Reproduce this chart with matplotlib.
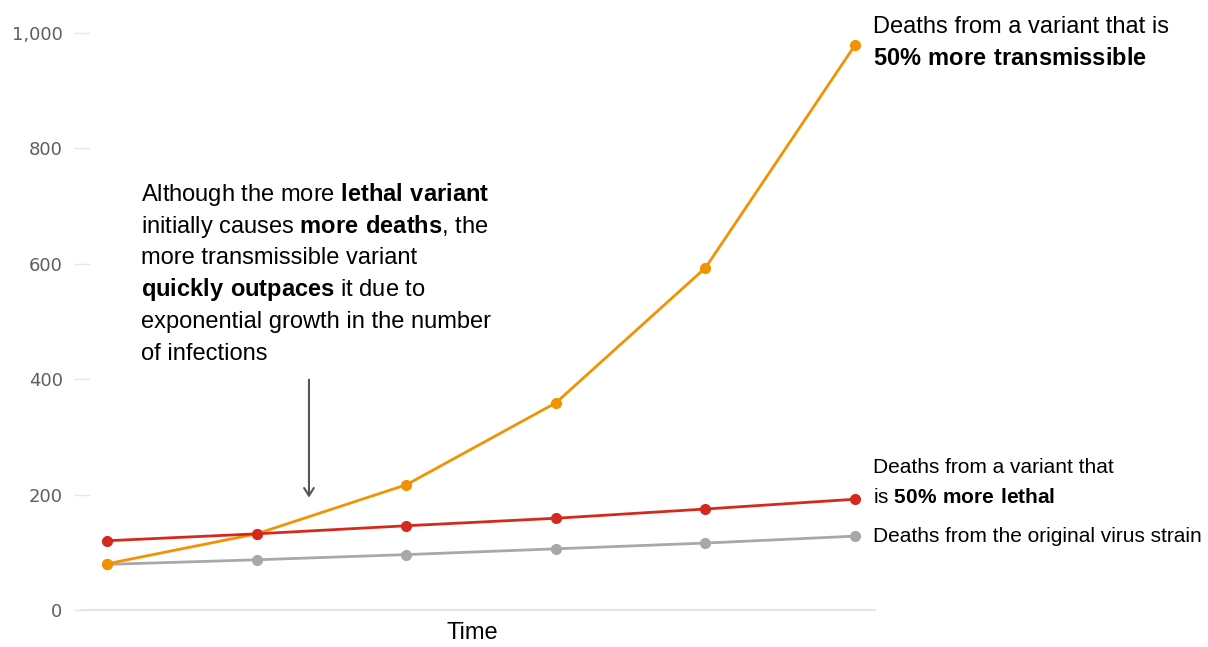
import matplotlib
matplotlib.use('Agg')
import matplotlib.pyplot as plt

### Fonts: Arial-like text, bold parts through mathtext. ###
plt.rcParams['font.family'] = 'Liberation Sans'
plt.rcParams['mathtext.fontset'] = 'custom'
plt.rcParams['mathtext.rm'] = 'Liberation Sans'
plt.rcParams['mathtext.bf'] = 'Liberation Sans:bold'

### Data. ###
steps = [0, 1, 2, 3, 4, 5]
original = [79, 87, 96, 106, 116, 128]
lethal = [120, 132, 146, 159, 175, 192]
transmissible = [80, 132, 217, 359, 593, 979]
yticks = [0, 200, 400, 600, 800, 1000]
ytick_labels = ['0', '200', '400', '600', '800', '1,000']

note_lines = [
    r"Although the more $\mathbf{lethal\ variant}$",
    r"initially causes $\mathbf{more\ deaths}$, the",
    "more transmissible variant",
    r"$\mathbf{quickly\ outpaces}$ it due to",
    "exponential growth in the number",
    "of infections",
]

ORANGE = '#f39200'
RED = '#d42a1e'
GREY = '#a8a8a8'
FS = 17

fig = plt.figure(figsize=(12.08, 6.47), dpi=100)
ax = fig.add_axes([0.0679, 0.0572, 0.6565, 0.8918])

style = dict(lw=2, marker='o', ms=7, clip_on=False)
ax.plot(steps, original, color=GREY, **style)
ax.plot(steps, transmissible, color=ORANGE, **style)
ax.plot(steps, lethal, color=RED, **style)

ax.set_xlim(-0.167, 5.134)
ax.set_ylim(0, 1000)

for s in ['top', 'right', 'left']:
    ax.spines[s].set_visible(False)
ax.spines['bottom'].set_color('#e4e4e4')
ax.spines['bottom'].set_linewidth(1.5)

ax.set_xticks([])
ax.set_yticks(yticks)
ax.set_yticklabels(ytick_labels, fontfamily='DejaVu Sans')
ax.tick_params(axis='y', direction='inout', length=12, width=1, color='#e6e6e6',
               labelcolor='#5f5f5f', labelsize=13, pad=8)

ax.set_xlabel('Time', fontsize=FS, color='black', labelpad=9)
ax.xaxis.label.set_x(0.492)

### Note + arrow. ###
y0 = 709
for i, line in enumerate(note_lines):
    ax.text(0.227, y0 - 55.1 * i, line, fontsize=FS, va='baseline', ha='left')

ax.annotate('', xy=(1.35, 190), xytext=(1.35, 404),
            arrowprops=dict(arrowstyle='->,head_length=0.55,head_width=0.35',
                            color='#555555', lw=1.5))

### Labels at the line ends. ###
lx = 5.12
ax.text(lx, 1000, "Deaths from a variant that is", fontsize=FS, va='baseline', clip_on=False)
ax.text(lx, 944, r"$\mathbf{50\%\ more\ transmissible}$", fontsize=FS, va='baseline', clip_on=False)
ax.text(lx, 237, "Deaths from a variant that", fontsize=15, va='baseline', clip_on=False)
ax.text(lx, 185, r"is $\mathbf{50\%\ more\ lethal}$", fontsize=15, va='baseline', clip_on=False)
ax.text(lx, 118, "Deaths from the original virus strain", fontsize=15, va='baseline', clip_on=False)

fig.savefig('out.png', dpi=100)
